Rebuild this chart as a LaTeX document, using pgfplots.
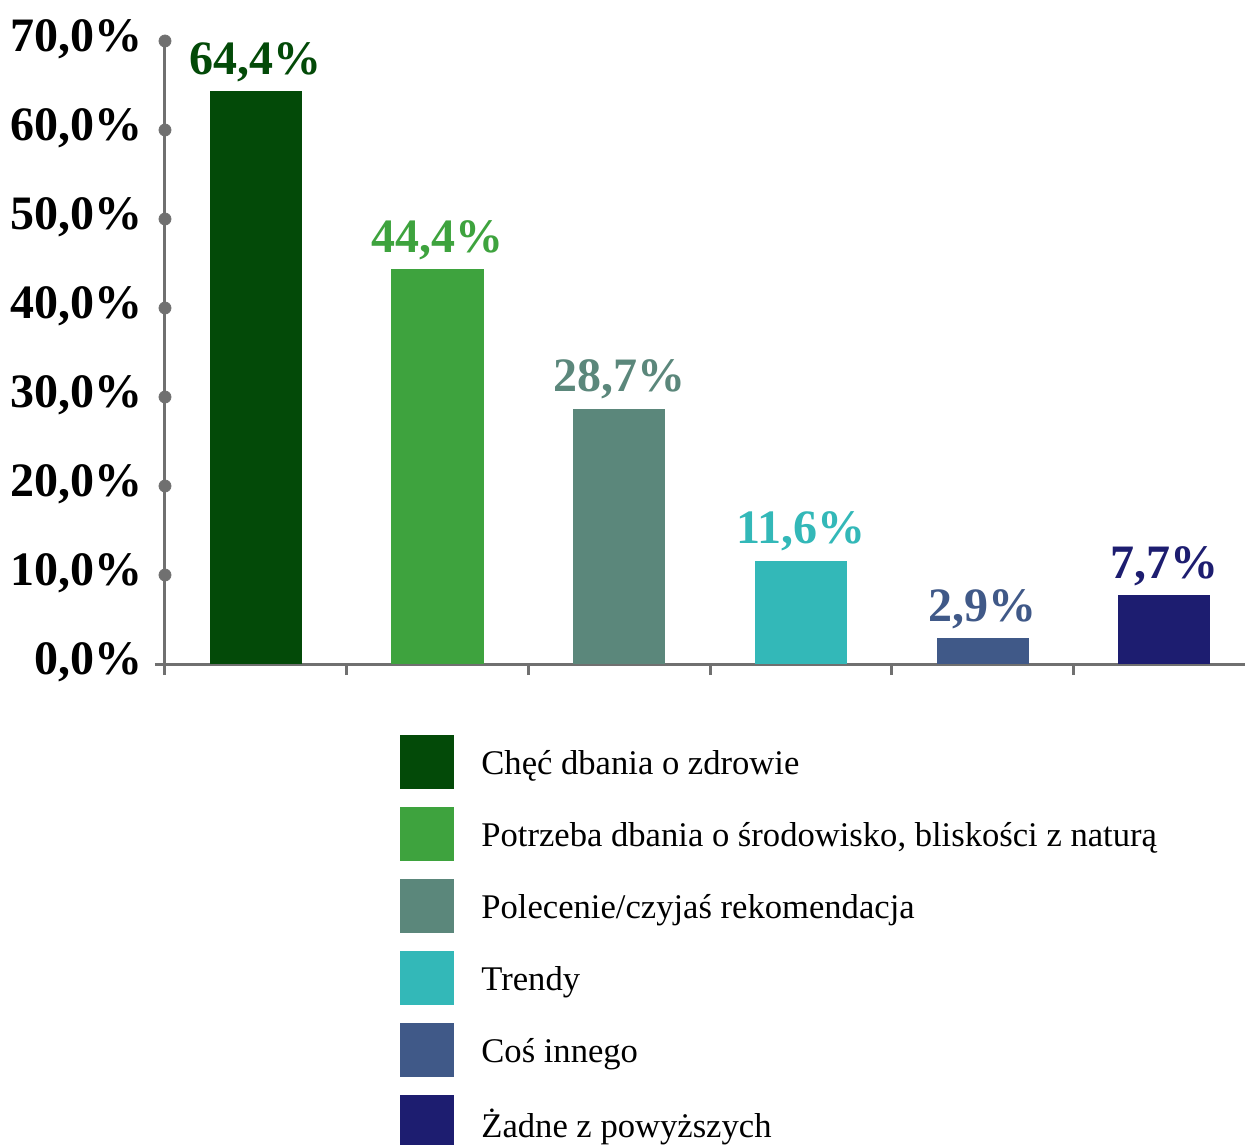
\documentclass[border=0pt]{standalone}
\usepackage{fontspec}
\setmainfont{Liberation Serif}
\usepackage{pgfplots}
\pgfplotsset{compat=1.18}
\definecolor{c1}{HTML}{034A08}
\definecolor{c2}{HTML}{3EA33E}
\definecolor{c3}{HTML}{5B877B}
\definecolor{c4}{HTML}{33B8B8}
\definecolor{c5}{HTML}{405988}
\definecolor{c6}{HTML}{1D1D70}
\definecolor{axgray}{HTML}{707070}
\pgfplotsset{
  mybar/.style={ybar, bar width=46pt, bar shift=0pt, draw=none, fill=#1,
    nodes near coords={\pgfmathprintnumber[fixed,fixed zerofill,precision=1,use comma,assume math mode=true]{\pgfplotspointmeta}\%},
    every node near coord/.append style={text=#1, font=\bfseries\fontsize{24}{28}\selectfont, inner sep=4.5pt},
    legend image code/.code={\fill[#1] (0pt,-13.5pt) rectangle (27pt,13.5pt);}},
}
\begin{document}
\begin{tikzpicture}
\useasboundingbox (-82.5pt,-240pt) rectangle (540pt,332pt);
\begin{axis}[
  at={(0,0)}, anchor=south west,
  scale only axis, width=545pt, height=311.5pt,
  xmin=-0.5, xmax=5.5, ymin=0, ymax=70,
  clip=false,
  axis x line=bottom, axis y line=left,
  axis line style={-, draw=axgray, line width=1.5pt},
  x axis line style={shorten <=-5pt},
  xtick={-0.5,0.5,1.5,2.5,3.5,4.5,5.5}, xticklabels={},
  xtick style={draw=axgray, line width=1.5pt},
  tick align=outside, major tick length=5.5pt,
  ytick={0,10,...,70}, ytick style={draw=none},
  yticklabel style={font=\bfseries\fontsize{24}{28}\selectfont, xshift=-2pt, yshift=1pt},
  yticklabel={\pgfmathprintnumber[fixed,fixed zerofill,precision=1,use comma,assume math mode=true]{\tick}\%},
  legend style={at={(rel axis cs:0.2156,-0.114)}, anchor=north west, draw=none, fill=none,
    inner sep=0pt, font=\fontsize{17.3}{21}\selectfont, row sep=9pt, column sep=13.5pt,
    nodes={inner sep=0pt, yshift=-1pt}},
  legend cell align=left,
]
\addplot[only marks, mark=*, mark size=3pt, color=axgray, forget plot]
  coordinates {(-0.5,10) (-0.5,20) (-0.5,30) (-0.5,40) (-0.5,50) (-0.5,60) (-0.5,70)};
\addplot[mybar=c1] coordinates {(0,64.4)};
\addlegendentry{Chęć dbania o zdrowie}
\addplot[mybar=c2] coordinates {(1,44.4)};
\addlegendentry{Potrzeba dbania o środowisko, bliskości z naturą}
\addplot[mybar=c3] coordinates {(2,28.7)};
\addlegendentry{Polecenie/czyjaś rekomendacja}
\addplot[mybar=c4] coordinates {(3,11.6)};
\addlegendentry{Trendy}
\addplot[mybar=c5] coordinates {(4,2.9)};
\addlegendentry{Coś innego}
\addplot[mybar=c6] coordinates {(5,7.7)};
\addlegendentry{Żadne z powyższych}
\end{axis}
\end{tikzpicture}
\end{document}
